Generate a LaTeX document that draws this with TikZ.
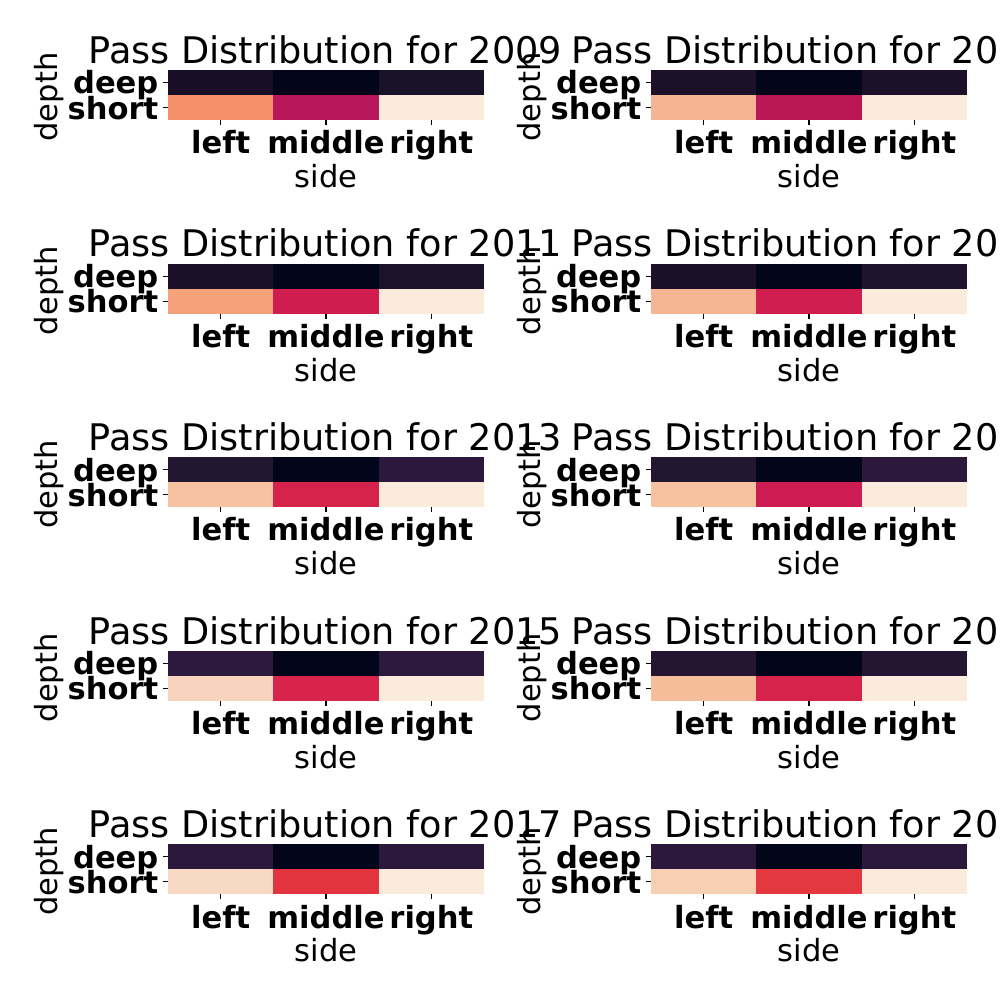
\documentclass[tikz,border=0pt]{standalone}
\usepackage{fontspec}
\setmainfont{DejaVu Sans}
\definecolor{cmin}{HTML}{03051A}
\definecolor{cmax}{HTML}{FAEBDD}
\definecolor{aDL}{HTML}{180F26}\definecolor{aDR}{HTML}{1A1228}\definecolor{aSL}{HTML}{F4916A}\definecolor{aSM}{HTML}{B8185A}
\definecolor{bDL}{HTML}{1C1129}\definecolor{bDR}{HTML}{1C1129}\definecolor{bSL}{HTML}{F5B592}\definecolor{bSM}{HTML}{BA1656}
\definecolor{cDL}{HTML}{1B1127}\definecolor{cDR}{HTML}{1C1229}\definecolor{cSL}{HTML}{F5A27A}\definecolor{cSM}{HTML}{D01D50}
\definecolor{dDL}{HTML}{1B1127}\definecolor{dDR}{HTML}{1F132E}\definecolor{dSL}{HTML}{F5B694}\definecolor{dSM}{HTML}{D11E50}
\definecolor{eDL}{HTML}{231632}\definecolor{eDR}{HTML}{2C183C}\definecolor{eSL}{HTML}{F6C2A2}\definecolor{eSM}{HTML}{D6234B}
\definecolor{fDL}{HTML}{231632}\definecolor{fDR}{HTML}{2B183B}\definecolor{fSL}{HTML}{F6C2A0}\definecolor{fSM}{HTML}{CD1C51}
\definecolor{gDL}{HTML}{2D193D}\definecolor{gDR}{HTML}{2D193D}\definecolor{gSL}{HTML}{F8D4BE}\definecolor{gSM}{HTML}{D8244B}
\definecolor{hDL}{HTML}{241633}\definecolor{hDR}{HTML}{241633}\definecolor{hSL}{HTML}{F6BD9A}\definecolor{hSM}{HTML}{D6234B}
\definecolor{iDL}{HTML}{2B183B}\definecolor{iDR}{HTML}{2B183B}\definecolor{iSL}{HTML}{F8D9C4}\definecolor{iSM}{HTML}{E2343F}
\definecolor{jDL}{HTML}{2B183B}\definecolor{jDR}{HTML}{2B183B}\definecolor{jSL}{HTML}{F7CFB3}\definecolor{jSM}{HTML}{E43840}
\newcommand\hmap[4]{% #1 dx, #2 dy, #3 year, #4 colour prefix
\begin{scope}[shift={(#1,#2)}]
  \fill[#4DL] (168,70) rectangle (273.33,95);
  \fill[cmin] (273.33,70) rectangle (378.67,95);
  \fill[#4DR] (378.67,70) rectangle (484,95);
  \fill[#4SL] (168,95) rectangle (273.33,120);
  \fill[#4SM] (273.33,95) rectangle (378.67,120);
  \fill[cmax] (378.67,95) rectangle (484,120);
  \draw[tickmark] (163.1,82.5) -- (168,82.5);
  \draw[tickmark] (163.1,107.5) -- (168,107.5);
  \draw[tickmark] (220.67,120) -- (220.67,124.9);
  \draw[tickmark] (326,120) -- (326,124.9);
  \draw[tickmark] (431.33,120) -- (431.33,124.9);
  \node[ticklab, anchor=base east] (deep#3) at (158.6,94) {deep};
  \node[ticklab, anchor=base east] (short#3) at (158.6,119) {short};
  \node[ticklab, anchor=base] (left#3) at (220.67,153.7) {left};
  \node[ticklab, anchor=base] (middle#3) at (326,153.7) {middle};
  \node[ticklab, anchor=base] (right#3) at (431.33,153.7) {right};
  \node[axlab, anchor=base] (side#3) at (326,187.5) {side};
  \node[axlab, anchor=base, rotate=90] (depth#3) at (57,97) {depth};
  \node[titlelab, anchor=base] (title#3) at (325.4,63.3) {Pass Distribution for #3};
\end{scope}}
\begin{document}
\begin{tikzpicture}[x=0.72pt,y=-0.72pt,
  tickmark/.style={line width=0.8pt,draw=black},
  ticklab/.style={inner sep=0pt,font=\fontsize{22}{26}\bfseries\selectfont},
  axlab/.style={inner sep=0pt,font=\fontsize{22}{26}\selectfont},
  titlelab/.style={inner sep=0pt,font=\fontsize{26.4}{30}\selectfont}]
\useasboundingbox (0,0) rectangle (1000,1000);
\clip (0,0) rectangle (1000,1000);
\fill[white] (0,0) rectangle (1000,1000);
\hmap{0}{0}{2009}{a}
\hmap{483}{0}{2010}{b}
\hmap{0}{193.6}{2011}{c}
\hmap{483}{193.6}{2012}{d}
\hmap{0}{387.2}{2013}{e}
\hmap{483}{387.2}{2014}{f}
\hmap{0}{580.8}{2015}{g}
\hmap{483}{580.8}{2016}{h}
\hmap{0}{774.4}{2017}{i}
\hmap{483}{774.4}{2018}{j}
\end{tikzpicture}
\end{document}
